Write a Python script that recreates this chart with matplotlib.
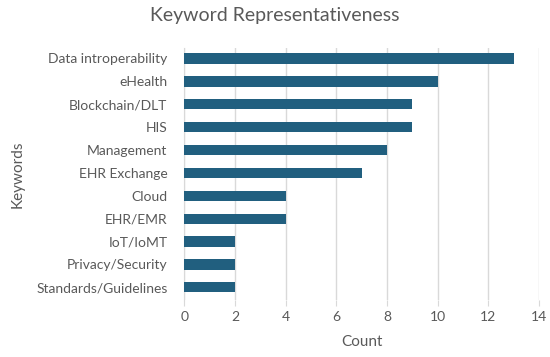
import matplotlib.pyplot as plt

keywords = ["Data introperability", "eHealth", "Blockchain/DLT", "HIS", "Management",
            "EHR Exchange", "Cloud", "EHR/EMR", "IoT/IoMT", "Privacy/Security",
            "Standards/Guidelines"]
counts = [13, 10, 9, 9, 8, 7, 4, 4, 2, 2, 2]
xticks = [0, 2, 4, 6, 8, 10, 12, 14]

plt.rcParams['font.family'] = ['Lato', 'DejaVu Sans']
txt = '#595959'

fig = plt.figure(figsize=(5.5, 3.57), dpi=100)
ax = fig.add_axes([0.335, 0.16, 0.645, 0.705])

pos = list(range(len(keywords)))[::-1]
ax.barh(pos, counts, height=0.45, color='#215F7F', zorder=3)

ax.set_xlim(0, 14)
ax.set_ylim(-0.55, len(keywords) - 0.55)
ax.set_xticks(xticks)
ax.set_xticklabels([str(v) for v in xticks])
ax.set_yticks(pos)
ax.set_yticklabels(keywords)
ax.grid(axis='x', color='#D9D9D9', linewidth=1, zorder=0)
for s in ['top', 'right', 'bottom']:
    ax.spines[s].set_visible(False)
ax.spines['left'].set_color('#D9D9D9')
ax.tick_params(axis='x', colors='#D9D9D9', labelcolor=txt, labelsize=10, length=4, pad=4)
ax.tick_params(axis='y', length=0, labelcolor=txt, labelsize=10, pad=12)

ax.set_xlabel('Count', color=txt, fontsize=11, labelpad=9)
ax.set_ylabel('Keywords', color=txt, fontsize=11, labelpad=8)
fig.suptitle('Keyword Representativeness', color=txt, fontsize=14, y=0.98)

fig.savefig('out.png', dpi=100)
